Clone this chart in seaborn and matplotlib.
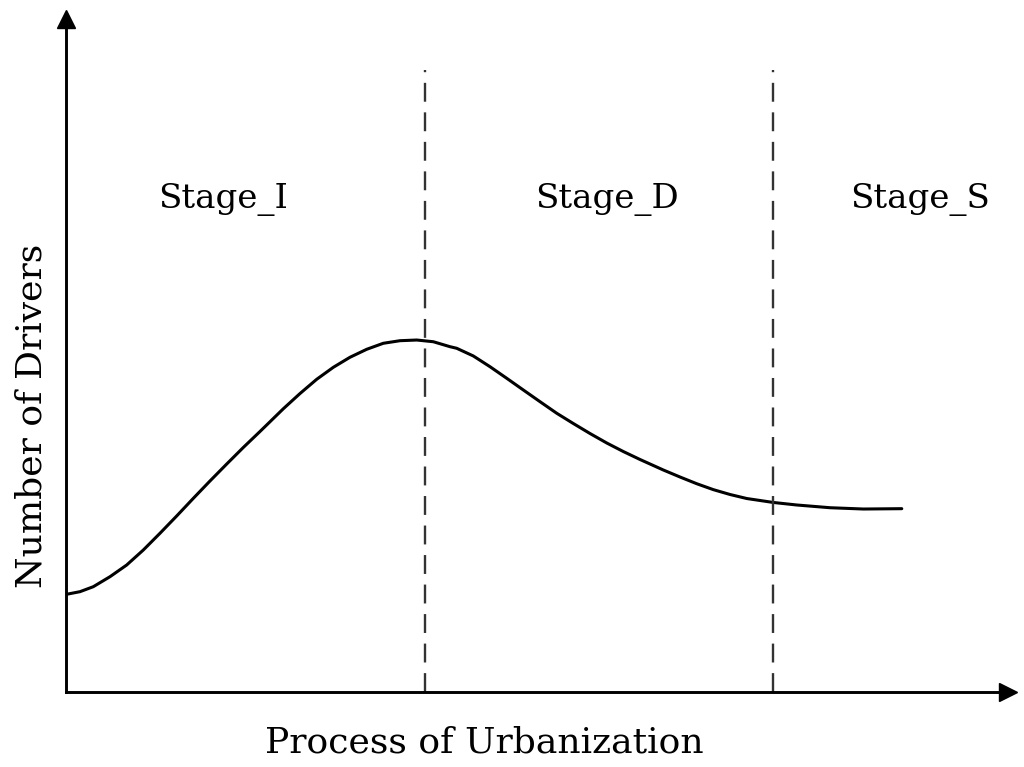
import matplotlib
matplotlib.use("Agg")
import matplotlib.pyplot as plt
import seaborn as sns
import pandas as pd

# conceptual curve
urbanization = [0.007, 0.147, 0.287, 0.463, 0.638, 0.813, 0.988, 1.164, 1.339,
                1.514, 1.690, 1.864, 2.040, 2.110, 2.285, 2.461, 2.636, 2.811,
                2.986, 3.162, 3.336, 3.512, 3.688, 3.862, 4.038, 4.108, 4.283,
                4.458, 4.634, 4.809, 4.984, 5.160, 5.334, 5.510, 5.686, 5.860,
                6.036, 6.106, 6.281, 6.457, 6.632, 6.807, 6.982, 7.158, 7.438,
                7.684, 8.034, 8.384, 8.788]
drivers = [1.433, 1.471, 1.544, 1.691, 1.862, 2.082, 2.327, 2.581, 2.840,
           3.094, 3.343, 3.585, 3.820, 3.915, 4.153, 4.377, 4.585, 4.761,
           4.908, 5.025, 5.113, 5.151, 5.161, 5.136, 5.063, 5.040, 4.927,
           4.770, 4.600, 4.428, 4.257, 4.087, 3.937, 3.790, 3.651, 3.526,
           3.409, 3.365, 3.255, 3.152, 3.054, 2.967, 2.896, 2.837, 2.779,
           2.742, 2.702, 2.683, 2.688]

stage_names = ["Stage_I", "Stage_D", "Stage_S"]
stage_label_x = [1.651, 5.689, 8.98]
stage_label_y = 7.097
stage_bounds = [3.77, 7.43]
bound_top = 9.12

df = pd.DataFrame({"x": urbanization, "y": drivers})

sns.set_style("white")
plt.rcParams["font.family"] = ["DejaVu Serif"]
plt.rcParams["text.color"] = "black"

fig = plt.figure(figsize=(10.24, 7.67), dpi=100)
# axes placed so the origin sits where the picture's axes cross
ax = fig.add_axes([66 / 1024, 75 / 767, 942 / 1024, 673 / 767])

sns.lineplot(data=df, x="x", y="y", ax=ax, color="black", lw=2.2, sort=False)

for b in stage_bounds:
    ax.plot([b, b], [0, bound_top], color="#333333", lw=1.7,
            linestyle=(0, (8, 4.5)))

for name, sx in zip(stage_names, stage_label_x):
    ax.text(sx, stage_label_y, name, ha="center", va="baseline",
            fontsize=24.5, color="black")

ax.set_xlim(0, 9.905)
ax.set_ylim(0, 9.868)
ax.set_xticks([])
ax.set_yticks([])
ax.set_xlabel("Process of Urbanization", fontsize=26, color="black")
ax.set_ylabel("Number of Drivers", fontsize=26, color="black")
ax.xaxis.label.set_va("baseline")
ax.xaxis.set_label_coords(0.4437, -0.0902)
ax.yaxis.label.set_va("baseline")
ax.yaxis.set_label_coords(-0.0258, 0.410)

for side in ["top", "right"]:
    ax.spines[side].set_visible(False)
for side in ["left", "bottom"]:
    ax.spines[side].set_linewidth(2.1)
    ax.spines[side].set_color("black")

# arrow heads at the ends of the axes
ax.plot(1, 0, ">k", ms=13, transform=ax.transAxes, clip_on=False)
ax.plot(0, 1, "^k", ms=13, transform=ax.transAxes, clip_on=False)

fig.savefig("out.png", dpi=100)
